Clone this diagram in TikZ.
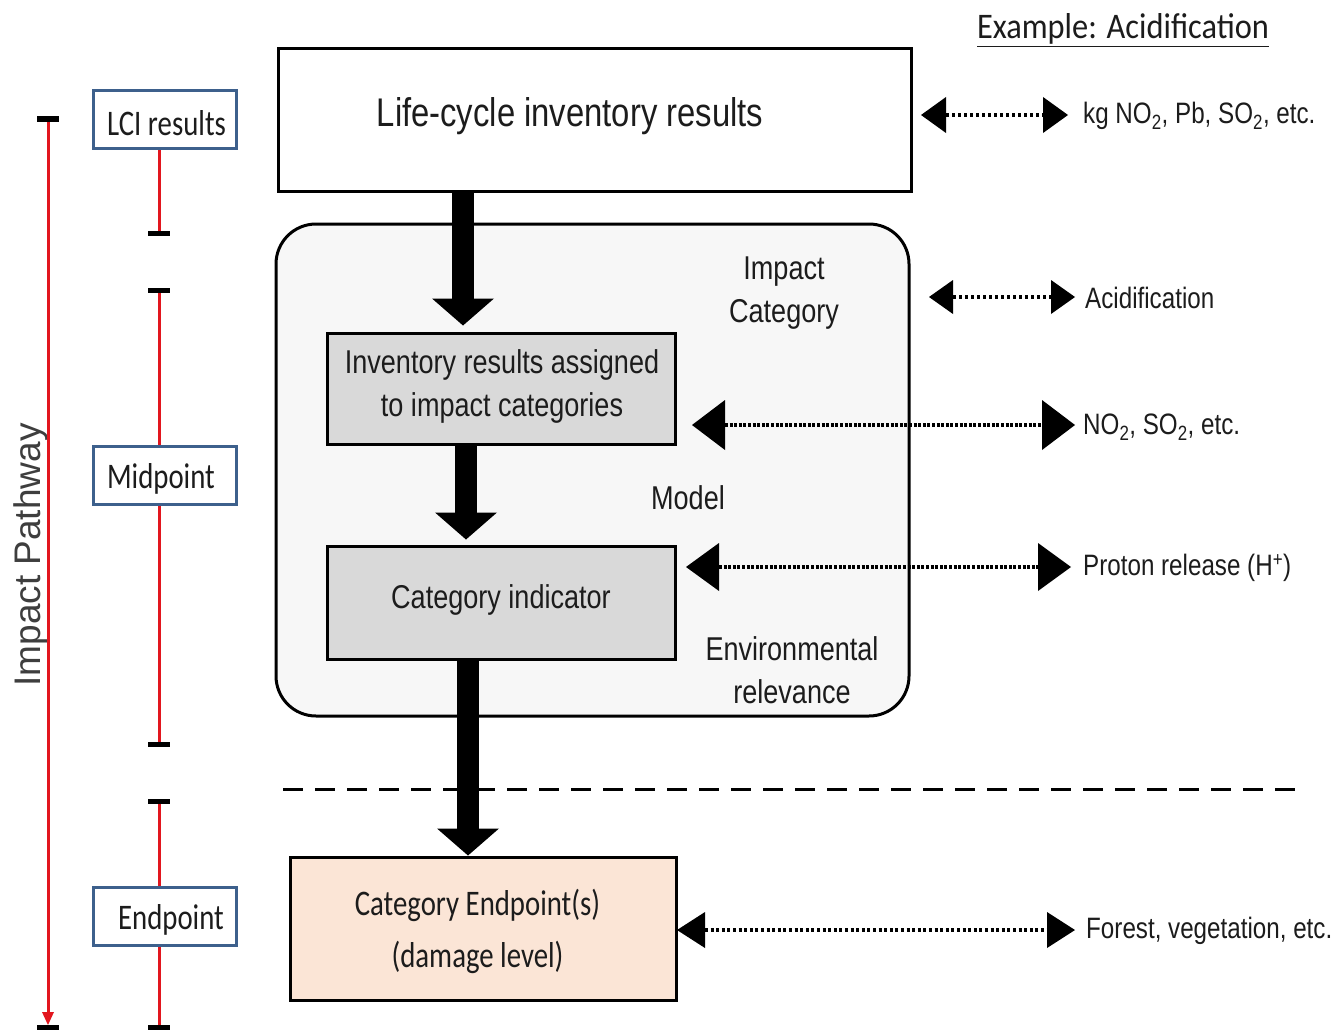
\documentclass[tikz,border=0pt]{standalone}
\usepackage{fontspec}
\setmainfont{Liberation Sans}
\newfontfamily\narrowfont[FakeStretch=0.82]{Liberation Sans}
\newfontfamily\calfont[FakeStretch=0.8]{Carlito}
\newfontfamily\headfont[FakeStretch=0.9]{Carlito}
\usetikzlibrary{arrows.meta}

\definecolor{boxblue}{RGB}{61,96,140}
\definecolor{pathred}{RGB}{226,22,30}
\definecolor{panelgray}{RGB}{247,247,247}
\definecolor{stepgray}{RGB}{217,217,217}
\definecolor{peach}{RGB}{251,229,214}
\definecolor{ink}{RGB}{28,28,28}

\begin{document}
\begin{tikzpicture}[x=1pt,y=-1pt,
  stagebox/.style={draw=boxblue,line width=3pt,fill=white,inner sep=0pt,
    minimum width=143pt,minimum height=58pt,text=ink,
    font=\calfont\fontsize{36}{40}\selectfont},
  stagetext/.style={inner sep=0pt,text=ink,font=\calfont\fontsize{36}{40}\selectfont},
  redline/.style={draw=pathred,line width=3pt},
  barend/.style={draw=black,line width=5pt},
  flowbox/.style={draw=black,line width=3pt,inner sep=0pt,text=ink,align=center},
  flowtext/.style={inner sep=0pt,text=ink,align=center,
    font=\narrowfont\fontsize{33}{43}\selectfont},
  sidelabel/.style={anchor=west,inner sep=0pt,text=ink,
    font=\narrowfont\fontsize{29.5}{34}\selectfont},
  bigarrow/.style={draw=black,line width=22pt,
    -{Triangle[length=27pt,width=62pt,line width=0pt]}},
  dotarrow/.style n args={3}{draw=black,line width=3.5pt,dash pattern=#3,
    >={Triangle[length=#1,width=#2,line width=0pt]},<->},
  separator/.style={draw=black,line width=3pt,dash pattern=on 20pt off 12pt}
]
\fill[white] (0,0) rectangle (1337,1030);
\useasboundingbox (0,0) rectangle (1337,1030);

% heading
\node[inner sep=0pt,text=ink,font=\headfont\fontsize{36}{40}\selectfont] (example) at (1123,30)
  {\underline{Example: Acidification}};

% impact assessment panel
\node[draw=black,line width=3pt,fill=panelgray,rounded corners=40pt,inner sep=0pt,
  minimum width=633pt,minimum height=492pt] (panel) at (592.5,470) {};

% inventory results box
\node[flowbox,fill=white,minimum width=633pt,minimum height=142pt] (lci) at (594.5,120) {};
\node[flowtext,font=\narrowfont\fontsize{40}{48}\selectfont] (lcitxt) at (570,116)
  {Life-cycle inventory results};

% steps inside the panel
\node[flowbox,fill=stepgray,minimum width=348pt,minimum height=111pt] (inv) at (501,388.5) {};
\node[flowtext] (invtxt) at (502,386.5) {Inventory results assigned\\to impact categories};
\node[flowbox,fill=stepgray,minimum width=348pt,minimum height=113pt] (cat) at (501,602.5) {};
\node[flowtext] (cattxt) at (501,600) {Category indicator};

\node[flowtext] (impcat) at (784,293) {Impact\\Category};
\node[flowtext] (model) at (688,498) {Model};
\node[flowtext] (envrel) at (792,670) {Environmental\\relevance};

% endpoint box
\node[flowbox,fill=peach,minimum width=386pt,minimum height=143pt] (endp) at (483,928.5) {};
\node[inner sep=0pt,text=ink,align=center,font=\calfont\fontsize{36}{52}\selectfont]
  (endtxt) at (477.5,931.5) {Category Endpoint(s)\\(damage level)};

% separator between midpoint and endpoint levels
\coordinate (d0) at (283,789);
\coordinate (d1) at (1300,789);
\draw[separator] (d0) -- (d1);

% example labels
\node[sidelabel] (lab1) at (1083,116) {kg NO\textsubscript{2}, Pb, SO\textsubscript{2}, etc.};
\node[sidelabel] (lab2) at (1085,298) {Acidification};
\node[sidelabel] (lab3) at (1083,427) {NO\textsubscript{2}, SO\textsubscript{2}, etc.};
\node[sidelabel] (lab4) at (1083,568) {Proton release (H\textsuperscript{+})};
\node[sidelabel] (lab5) at (1086,931) {Forest, vegetation, etc.};

% dotted links to the examples
\coordinate (e1) at (921,115);
\coordinate (e2) at (929,297);
\coordinate (e3) at (692,425);
\coordinate (e4) at (686,567);
\coordinate (e5) at (677,930);
\draw[dotarrow={25pt}{36pt}{on 3pt off 3pt}] (e1) -- ([xshift=-15pt]lab1.west |- e1);
\draw[dotarrow={24pt}{34pt}{on 3pt off 3pt}] (e2) -- ([xshift=-10pt]lab2.west |- e2);
\draw[dotarrow={33pt}{50pt}{on 3pt off 1.6pt}] (e3) -- ([xshift=-8pt]lab3.west |- e3);
\draw[dotarrow={33pt}{48pt}{on 3pt off 1.6pt}] (e4) -- ([xshift=-12pt]lab4.west |- e4);
\draw[dotarrow={28pt}{36pt}{on 3pt off 2.6pt}] (e5) -- ([xshift=-11pt]lab5.west |- e5);

% main flow
\draw[bigarrow] ([xshift=-131.5pt]lci.south) -- ([xshift=-38pt,yshift=6pt]inv.north);
\draw[bigarrow] ([xshift=-35pt]inv.south) -- ([xshift=-35pt,yshift=5pt]cat.north);
\draw[bigarrow] ([xshift=-33pt]cat.south) -- ([xshift=-15pt]endp.north);

% impact pathway scale
\node[rotate=90,inner sep=0pt,text=ink!85,font=\fontsize{37}{44}\selectfont] (pathway) at (31,555)
  {Impact Pathway};
\coordinate (p0) at (48,119);
\coordinate (p1) at (48,1027);
\draw[redline,-{Triangle[length=13pt,width=12pt,line width=0pt]}] (p0) -- ([yshift=2pt]p1);
\draw[barend] ([xshift=-11pt]p0) -- ([xshift=11pt]p0);
\draw[barend] ([xshift=-11pt]p1) -- ([xshift=11pt]p1);

\coordinate (s1) at (159,233);
\coordinate (s2) at (159,290);
\coordinate (s3) at (159,744);
\coordinate (s4) at (159,801);
\coordinate (s5) at (159,1027);

\node[stagebox] (lcires) at (164.5,119.5) {};
\node[stagebox] (midpt) at (164.5,475) {};
\node[stagebox] (endpt) at (164.5,916.5) {};
\node[stagetext] (lcirestxt) at (166.5,123) {LCI results};
\node[stagetext] (midpttxt) at (161,479) {Midpoint};
\node[stagetext] (endpttxt) at (171,920) {Endpoint};

\draw[redline] (lcires.south -| s1) -- (s1);
\draw[redline] (s2) -- (midpt.north -| s2);
\draw[redline] (midpt.south -| s3) -- (s3);
\draw[redline] (s4) -- (endpt.north -| s4);
\draw[redline] (endpt.south -| s5) -- (s5);
\foreach \s in {s1,s2,s3,s4,s5}
  \draw[barend] ([xshift=-11pt]\s) -- ([xshift=11pt]\s);
\end{tikzpicture}
\end{document}
